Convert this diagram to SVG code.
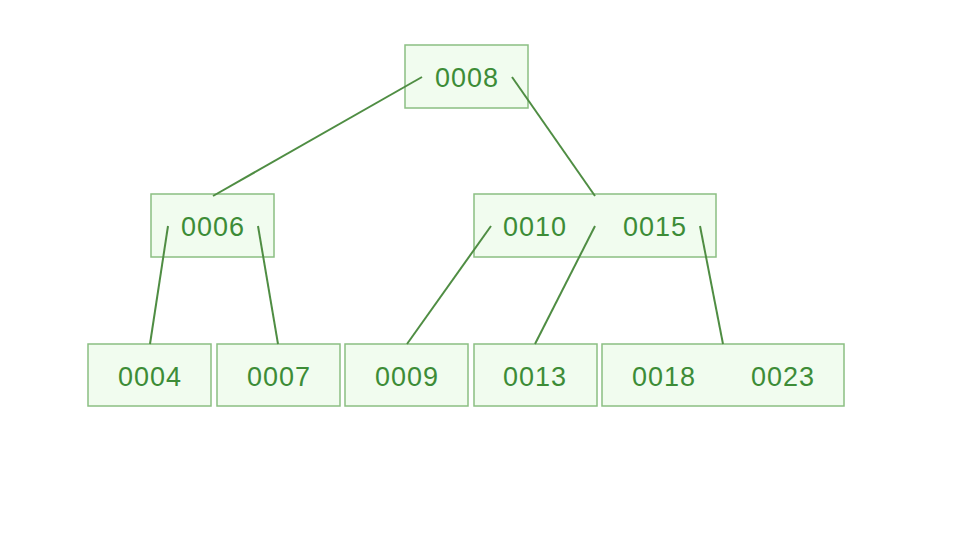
<svg xmlns="http://www.w3.org/2000/svg" width="956" height="550" viewBox="0 0 956 550">
<style>
.box{fill:#f1fcef;stroke:#8bbf82;stroke-width:1.5}
.t{font-family:"Liberation Sans",Arial,sans-serif;font-size:27px;fill:#3d8c37;text-anchor:middle;letter-spacing:1px}
.c{stroke:#4f8d43;stroke-width:2;fill:none}
</style>
<rect width="956" height="550" fill="#ffffff"/>
<g id="n0008"><rect class="box" x="405" y="45" width="123" height="63"/><text class="t" x="467" y="87">0008</text></g>
<g id="n0006"><rect class="box" x="151" y="194" width="123" height="63"/><text class="t" x="213" y="236">0006</text></g>
<g id="n0010_0015"><rect class="box" x="474" y="194" width="242" height="63"/><text class="t" x="535" y="236">0010</text><text class="t" x="655" y="236">0015</text></g>
<g id="n0004"><rect class="box" x="88" y="344" width="123" height="62"/><text class="t" x="150" y="386">0004</text></g>
<g id="n0007"><rect class="box" x="217" y="344" width="123" height="62"/><text class="t" x="279" y="386">0007</text></g>
<g id="n0009"><rect class="box" x="345" y="344" width="123" height="62"/><text class="t" x="407" y="386">0009</text></g>
<g id="n0013"><rect class="box" x="474" y="344" width="123" height="62"/><text class="t" x="535" y="386">0013</text></g>
<g id="n0018_0023"><rect class="box" x="602" y="344" width="242" height="62"/><text class="t" x="664" y="386">0018</text><text class="t" x="783" y="386">0023</text></g>
<g id="connectors">
<line class="c" x1="422" y1="77" x2="213" y2="196"/>
<line class="c" x1="512" y1="77" x2="595" y2="196"/>
<line class="c" x1="168" y1="226" x2="150" y2="344"/>
<line class="c" x1="258" y1="226" x2="278" y2="344"/>
<line class="c" x1="491" y1="226" x2="407" y2="344"/>
<line class="c" x1="595" y1="226" x2="535" y2="344"/>
<line class="c" x1="700" y1="226" x2="723" y2="344"/>
</g>
</svg>
